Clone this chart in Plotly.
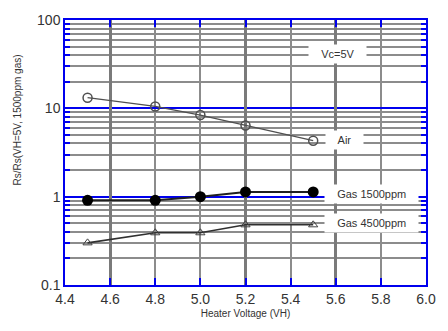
import math
import plotly.graph_objects as go

heater_v = [4.5, 4.8, 5.0, 5.2, 5.5]
air = [13.2, 10.5, 8.4, 6.4, 4.3]
gas1500 = [0.91, 0.91, 1.0, 1.13, 1.13]
gas4500 = [0.30, 0.39, 0.39, 0.48, 0.48]

x_ticks = [4.4, 4.6, 4.8, 5.0, 5.2, 5.4, 5.6, 5.8, 6.0]
x_heavy_grid = [4.6, 5.2, 5.6]
y_ticks = [0.1, 1, 10, 100]
y_tick_text = ["0.1", "1", "10", "100"]
minor_vals = [m * d for d in (0.1, 1, 10) for m in range(2, 10)]

labels = [("Vc=5V", 5.609, 41.0), ("Air", 5.639, 4.36),
          ("Gas 1500ppm", 5.757, 1.08), ("Gas 4500ppm", 5.757, 0.51)]

font = "Liberation Sans, Arial, sans-serif"
fig = go.Figure()
fig.add_trace(go.Scatter(x=[4.4, 6.0], y=[1, 1], xaxis="x2", yaxis="y", mode="none",
                         showlegend=False, hoverinfo="skip"))
fig.add_trace(go.Scatter(x=heater_v, y=air, mode="lines+markers",
                         line=dict(color="#505050", width=1.3),
                         marker=dict(symbol="circle-open", size=9, color="#505050", line=dict(width=1.5))))
fig.add_trace(go.Scatter(x=heater_v, y=gas1500, mode="lines+markers",
                         line=dict(color="#202020", width=2),
                         marker=dict(symbol="circle", size=11, color="black")))
fig.add_trace(go.Scatter(x=heater_v, y=gas4500, mode="lines+markers",
                         line=dict(color="#303030", width=1.6),
                         marker=dict(symbol="triangle-up-open", size=8, color="#404040", line=dict(width=1))))
fig.add_trace(go.Scatter(x=[4.4, 6.0], y=[1, 1], yaxis="y2", mode="none",
                         showlegend=False, hoverinfo="skip"))

for t, xv, yv in labels:
    fig.add_annotation(x=xv, y=math.log10(yv), yref="y", xref="x", text="   " + t + "   ",
                       showarrow=False, bgcolor="white", borderpad=3,
                       font=dict(family=font, size=11, color="#333"))

fig.add_annotation(x=(17 - 65) / (448 - 65 - 15), y=(331 - 46 - 119) / (331 - 19 - 46),
                   xref="paper", yref="paper", xanchor="center", yanchor="middle",
                   text="Rs/Rs(VH=5V, 1500ppm gas)",
                   showarrow=False, textangle=-90, font=dict(family=font, size=10, color="#333"))

fig.update_layout(
    width=448, height=331, margin=dict(l=65, r=15, t=19, b=46),
    paper_bgcolor="white", plot_bgcolor="white", showlegend=False,
    font=dict(family=font, color="#333"),
    xaxis=dict(range=[4.4, 6.0], tickvals=x_ticks, ticktext=[f"{v:.1f}" for v in x_ticks],
               showgrid=True, gridcolor="#8c8c8c", gridwidth=1.5, zeroline=False,
               showline=True, linecolor="#0000ee", linewidth=1.5, mirror="ticks",
               ticks="inside", ticklen=7, tickwidth=2, tickcolor="#0000ee",
               tickfont=dict(size=14), title=dict(text="Heater Voltage (VH)", font=dict(size=10), standoff=4)),
    xaxis2=dict(range=[4.4, 6.0], overlaying="x", tickvals=x_heavy_grid, showticklabels=False,
                ticks="", showgrid=True, gridcolor="#7a7a7a", gridwidth=2.5, zeroline=False),
    yaxis=dict(type="log", range=[-1, 2], tickvals=y_ticks, ticktext=y_tick_text,
               showgrid=True, gridcolor="#0000ee", gridwidth=1.5, zeroline=False,
               showline=True, linecolor="#0000ee", linewidth=1.5,
               ticks="", tickfont=dict(size=14),
               minor=dict(tickvals=minor_vals, showgrid=True, gridcolor="#8c8c8c", gridwidth=1.6,
                          ticks="inside", ticklen=5, tickwidth=2, tickcolor="#0000ee")),
    yaxis2=dict(type="log", range=[-1, 2], overlaying="y", side="right", showgrid=False,
                showticklabels=False, zeroline=False, showline=True, linecolor="#0000ee", linewidth=1.5,
                tickvals=y_ticks, ticks="",
                minor=dict(tickvals=minor_vals, showgrid=False, ticks="inside", ticklen=5,
                           tickwidth=2, tickcolor="#0000ee")),
)
fig.write_html("out.html")
